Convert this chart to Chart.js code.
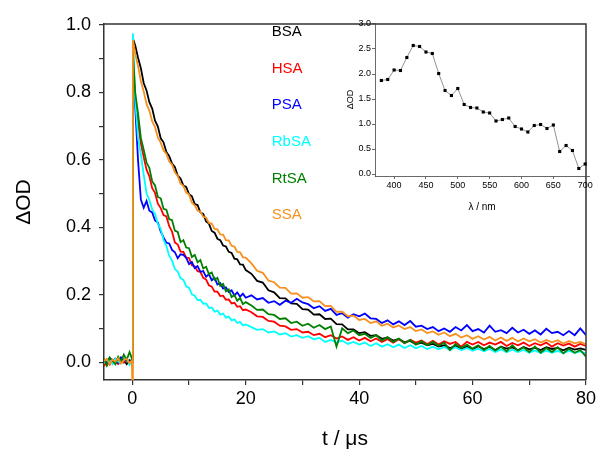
<!DOCTYPE html>
<html>
<head>
<meta charset="utf-8">
<script src="https://cdn.jsdelivr.net/npm/chart.js@4.4.1/dist/chart.umd.min.js"></script>
<style>
  html, body { margin: 0; padding: 0; background: #fff; }
  #wrap { position: relative; width: 599px; height: 452px; }
  #decay { position: absolute; left: 0; top: 0; }
  #spectrum { position: absolute; left: 335px; top: 0; }
</style>
</head>
<body>
<div id="wrap">
  <canvas id="decay" width="599" height="452"></canvas>
  <canvas id="spectrum" width="264" height="225"></canvas>
</div>
<script>
// time axis (us) shared by all transients
var times = [
  -5,-4.5,-4,-3.5,-3,-2.5,-2,-1.5,-1,-0.5,-0.1,
  0,0.1,
  0.5,1,1.5,2,2.5,3,3.5,4,4.5,5,5.5,6,6.5,7,7.5,8,8.5,9,9.5,10,
  10.5,11,11.5,12,12.5,13,13.5,14,14.5,15,15.5,16,16.5,17,17.5,18,18.5,19,19.5,20,
  21,22,23,24,25,26,27,28,29,30,31,32,33,34,35,36,37,38,39,40,
  41,42,43,44,45,46,47,48,49,50,51,52,53,54,55,56,57,58,59,60,
  61,62,63,64,65,66,67,68,69,70,71,72,73,74,75,76,77,78,79,80
];

var labels = ['BSA', 'HSA', 'PSA', 'RbSA', 'RtSA', 'SSA'];
var colors = ['#000000', '#ff0000', '#0000ff', '#00ffff', '#007f00', '#f7901e'];

var bsa = [
  0.005,-0.008,0.012,0.002,-0.004,0.010,0.000,0.008,-0.006,0.006,0.002,
  0.000,0.960,
  0.940,0.903,0.872,0.828,0.806,0.771,0.752,0.716,0.699,0.664,0.652,0.623,0.611,0.589,0.579,0.553,0.545,0.524,0.520,0.498,
  0.492,0.469,0.466,0.444,0.440,0.417,0.411,0.389,0.384,0.366,0.362,0.346,0.343,0.327,0.324,0.307,0.305,0.290,0.289,0.273,
  0.262,0.241,0.236,0.213,0.207,0.190,0.189,0.174,0.173,0.157,0.156,0.141,0.142,0.128,0.129,0.113,0.112,0.097,0.097,0.086,
  0.089,0.078,0.080,0.069,0.073,0.064,0.069,0.059,0.063,0.053,0.058,0.050,0.054,0.046,0.050,0.042,0.048,0.040,0.046,0.038,
  0.047,0.039,0.045,0.036,0.046,0.040,0.044,0.035,0.045,0.038,0.043,0.036,0.044,0.039,0.042,0.035,0.043,0.037,0.041,0.036
];
var hsa = [
  -0.012,0.002,-0.008,0.006,0.000,-0.006,0.004,-0.002,0.008,-0.004,0.002,
  0.000,0.900,
  0.780,0.712,0.648,0.608,0.571,0.551,0.516,0.502,0.470,0.457,0.436,0.432,0.403,0.387,0.355,0.349,0.328,0.327,0.310,0.309,
  0.287,0.284,0.270,0.268,0.250,0.245,0.228,0.224,0.209,0.209,0.196,0.197,0.185,0.186,0.174,0.176,0.164,0.166,0.154,0.156,
  0.148,0.136,0.134,0.122,0.120,0.108,0.106,0.096,0.098,0.088,0.090,0.080,0.084,0.074,0.080,0.070,0.076,0.066,0.074,0.064,
  0.072,0.062,0.070,0.060,0.068,0.058,0.068,0.056,0.066,0.058,0.064,0.054,0.063,0.052,0.062,0.054,0.060,0.046,0.060,0.052,
  0.060,0.050,0.058,0.052,0.060,0.048,0.057,0.050,0.058,0.048,0.056,0.050,0.058,0.046,0.056,0.049,0.055,0.046,0.054,0.048
];
var psa = [
  0.008,-0.004,0.012,0.004,0.010,-0.002,0.014,0.004,0.008,0.000,0.006,
  0.000,0.900,
  0.760,0.600,0.482,0.458,0.478,0.449,0.444,0.420,0.414,0.388,0.370,0.354,0.352,0.333,0.326,0.308,0.320,0.318,0.309,0.291,
  0.297,0.279,0.285,0.268,0.270,0.253,0.261,0.243,0.250,0.230,0.234,0.218,0.222,0.208,0.213,0.198,0.207,0.194,0.203,0.191,
  0.198,0.186,0.190,0.176,0.181,0.170,0.182,0.176,0.188,0.177,0.172,0.160,0.166,0.152,0.158,0.140,0.145,0.132,0.142,0.136,
  0.144,0.130,0.128,0.116,0.124,0.112,0.121,0.110,0.122,0.105,0.108,0.098,0.104,0.092,0.100,0.090,0.104,0.094,0.110,0.092,
  0.098,0.088,0.108,0.090,0.095,0.086,0.102,0.088,0.096,0.084,0.094,0.082,0.099,0.086,0.090,0.080,0.092,0.080,0.100,0.080
];
var rbsa = [
  -0.002,0.008,0.004,-0.006,0.010,0.002,-0.004,0.006,0.012,-0.008,0.004,
  0.000,0.975,
  0.780,0.665,0.616,0.556,0.501,0.481,0.453,0.440,0.410,0.395,0.363,0.345,0.315,0.301,0.276,0.269,0.249,0.244,0.225,0.220,
  0.201,0.197,0.184,0.185,0.173,0.174,0.161,0.162,0.150,0.153,0.141,0.144,0.132,0.135,0.124,0.127,0.116,0.119,0.109,0.112,
  0.104,0.096,0.098,0.088,0.091,0.082,0.086,0.076,0.080,0.072,0.077,0.068,0.072,0.060,0.066,0.058,0.064,0.054,0.060,0.052,
  0.058,0.048,0.056,0.046,0.053,0.044,0.052,0.042,0.050,0.041,0.048,0.039,0.046,0.038,0.045,0.036,0.044,0.035,0.042,0.034,
  0.040,0.032,0.039,0.030,0.038,0.029,0.037,0.030,0.036,0.028,0.035,0.027,0.034,0.028,0.033,0.026,0.034,0.027,0.032,0.026
];
var rtsa = [
  0.010,-0.010,0.014,0.004,-0.006,0.016,0.002,0.022,0.006,0.030,0.012,
  0.000,0.920,
  0.800,0.738,0.665,0.630,0.592,0.576,0.536,0.524,0.490,0.486,0.455,0.452,0.424,0.421,0.390,0.386,0.356,0.362,0.340,0.338,
  0.312,0.318,0.296,0.303,0.278,0.283,0.261,0.266,0.244,0.250,0.226,0.232,0.210,0.216,0.193,0.199,0.182,0.190,0.172,0.178,
  0.168,0.155,0.156,0.142,0.140,0.128,0.130,0.116,0.120,0.108,0.114,0.102,0.110,0.098,0.106,0.046,0.100,0.086,0.094,0.080,
  0.084,0.072,0.080,0.064,0.074,0.060,0.070,0.056,0.066,0.052,0.062,0.050,0.060,0.048,0.058,0.036,0.054,0.042,0.052,0.040,
  0.050,0.036,0.048,0.034,0.046,0.032,0.050,0.034,0.044,0.030,0.046,0.028,0.042,0.030,0.044,0.026,0.040,0.028,0.036,0.016
];
var ssa = [
  0.004,0.010,-0.006,0.008,0.002,0.012,-0.004,0.006,0.010,-0.002,0.004,
  -0.070,0.955,
  0.915,0.879,0.834,0.803,0.766,0.746,0.714,0.697,0.666,0.651,0.628,0.618,0.595,0.586,0.563,0.552,0.529,0.523,0.503,0.497,
  0.473,0.465,0.449,0.447,0.431,0.429,0.413,0.411,0.395,0.394,0.379,0.378,0.362,0.361,0.345,0.343,0.327,0.326,0.311,0.310,
  0.293,0.271,0.265,0.242,0.237,0.221,0.220,0.203,0.204,0.191,0.193,0.180,0.181,0.166,0.167,0.149,0.150,0.136,0.138,0.125,
  0.128,0.116,0.121,0.108,0.114,0.103,0.109,0.098,0.104,0.092,0.097,0.086,0.091,0.081,0.088,0.077,0.084,0.073,0.080,0.069,
  0.077,0.067,0.075,0.064,0.073,0.063,0.072,0.061,0.070,0.062,0.068,0.058,0.066,0.059,0.065,0.055,0.063,0.056,0.060,0.052
];
var traces = [bsa, hsa, psa, rbsa, rtsa, ssa];

// inset: transient spectrum
var wavelengths = [380,390,400,410,420,430,440,450,460,470,480,490,500,510,520,530,540,550,
  560,570,580,590,600,610,620,630,640,650,660,670,680,690,700];
var spectrum = [1.87,1.89,2.08,2.07,2.33,2.57,2.55,2.44,2.41,2.01,1.67,1.57,1.71,1.39,1.33,1.32,1.24,1.22,
  1.06,1.09,1.12,0.95,0.90,0.84,0.97,0.99,0.91,0.98,0.45,0.57,0.47,0.11,0.20];

Chart.defaults.font.family = "'Liberation Sans', Arial, sans-serif";
Chart.defaults.color = '#000';

var frame = {
  id: 'frame',
  afterDraw: function(chart) {
    var a = chart.chartArea, ctx = chart.ctx;
    ctx.save();
    ctx.strokeStyle = '#333';
    ctx.lineWidth = 1.5;
    ctx.beginPath();
    ctx.moveTo(a.left, a.top);
    ctx.lineTo(a.right, a.top);
    ctx.lineTo(a.right, a.bottom);
    ctx.stroke();
    ctx.restore();
  }
};

var textLegend = {
  id: 'textLegend',
  afterDraw: function(chart) {
    var a = chart.chartArea, ctx = chart.ctx;
    var x = a.left + 0.348 * (a.right - a.left);
    var h = a.bottom - a.top;
    ctx.save();
    ctx.font = "15px 'Liberation Sans', Arial, sans-serif";
    ctx.textBaseline = 'middle';
    ctx.textAlign = 'left';
    chart.data.datasets.forEach(function(ds, i) {
      ctx.fillStyle = ds.borderColor;
      ctx.fillText(ds.label, x, a.top + h * (0.022 + 0.103 * i));
    });
    ctx.restore();
  }
};

var datasets = labels.map(function(name, i) {
  return {
    label: name,
    data: times.map(function(t, j) { return { x: t, y: traces[i][j] }; }),
    borderColor: colors[i],
    backgroundColor: colors[i],
    borderWidth: 1.8,
    pointRadius: 0,
    tension: 0,
    order: labels.length - i
  };
});

new Chart(document.getElementById('decay'), {
  type: 'line',
  data: { datasets: datasets },
  options: {
    responsive: false,
    animation: false,
    layout: { padding: { top: 24, right: 10, left: 0, bottom: 0 } },
    plugins: { legend: { display: false }, tooltip: { enabled: false } },
    scales: {
      x: {
        type: 'linear', min: -5, max: 80,
        afterFit: function(s) { s.height = 72; },
        ticks: {
          stepSize: 10, includeBounds: false, autoSkip: false, maxRotation: 0, padding: 3,
          font: { size: 18 },
          callback: function(v) { return v % 20 === 0 ? String(v) : ''; }
        },
        grid: { drawOnChartArea: false, tickLength: 5, color: '#333', lineWidth: 1.2 },
        border: { color: '#333', width: 1.5 },
        title: { display: true, text: 't / \u03bcs', font: { size: 21 }, padding: { top: 0, bottom: 0 } }
      },
      y: {
        type: 'linear', min: -0.053, max: 1.003,
        afterFit: function(s) { s.width = 104; },
        ticks: {
          stepSize: 0.1, includeBounds: false, autoSkip: false, padding: 8,
          font: { size: 18 },
          callback: function(v) { return Math.round(v * 10) % 2 === 0 ? v.toFixed(1) : ''; }
        },
        grid: { drawOnChartArea: false, tickLength: 5, color: '#333', lineWidth: 1.2 },
        border: { color: '#333', width: 1.5 },
        title: { display: true, text: '\u0394OD', font: { size: 21 }, padding: { top: 12, bottom: 0 } }
      }
    }
  },
  plugins: [frame, textLegend]
});

new Chart(document.getElementById('spectrum'), {
  type: 'line',
  data: {
    datasets: [{
      label: 'spectrum',
      data: wavelengths.map(function(w, i) { return { x: w, y: spectrum[i] }; }),
      borderColor: '#777',
      borderWidth: 0.8,
      pointStyle: 'rect',
      pointRadius: 2.2,
      pointBackgroundColor: '#000',
      pointBorderColor: '#000',
      pointBorderWidth: 0,
      tension: 0
    }]
  },
  options: {
    responsive: false,
    animation: false,
    layout: { padding: { top: 23, right: 10, left: 0, bottom: 0 } },
    plugins: { legend: { display: false }, tooltip: { enabled: false } },
    scales: {
      x: {
        type: 'linear', min: 370, max: 706,
        afterFit: function(s) { s.height = 49; },
        ticks: { stepSize: 50, includeBounds: false, autoSkip: false, maxRotation: 0, padding: 1, font: { size: 9 } },
        grid: { drawOnChartArea: false, tickLength: 3, color: '#444', lineWidth: 0.8 },
        border: { color: '#444', width: 0.8 },
        title: { display: true, text: '\u03bb / nm', font: { size: 10 }, padding: { top: 0, bottom: 12 } }
      },
      y: {
        type: 'linear', min: -0.04, max: 3.02,
        afterFit: function(s) { s.width = 40; },
        ticks: {
          stepSize: 0.5, includeBounds: false, autoSkip: false, padding: 1, font: { size: 9 },
          callback: function(v) { return v.toFixed(1); }
        },
        grid: { drawOnChartArea: false, tickLength: 3, color: '#444', lineWidth: 0.8 },
        border: { color: '#444', width: 0.8 },
        title: { display: true, text: '\u0394OD', font: { size: 9 }, padding: { top: 10, bottom: 0 } }
      }
    }
  }
});
</script>
</body>
</html>
